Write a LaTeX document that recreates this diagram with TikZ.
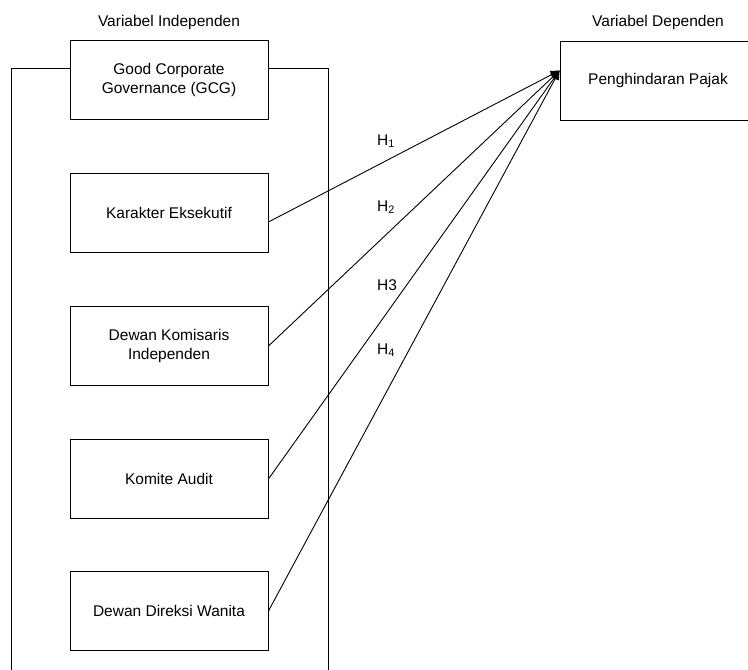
\documentclass[tikz,border=0pt]{standalone}
\usepackage{fontspec}
\setmainfont{Liberation Sans}
\usetikzlibrary{arrows.meta,positioning}
\tikzset{
  varblk/.style={draw,rectangle,minimum width=198pt,minimum height=79pt,align=center,line width=0.9pt,font=\fsz},
  hdr/.style={font=\fsz,align=center},
  hyp/.style={font=\fsz},
  arr/.style={-{Triangle[length=9pt,width=8pt]},line width=0.9pt},
  frm/.style={line width=0.9pt}
}
\newcommand{\fsz}{\fontsize{15.5}{19.5}\selectfont}

\begin{document}
\begin{tikzpicture}[x=1pt,y=-1pt]
  \useasboundingbox (0,0) rectangle (748,670);
  \clip (0,0) rectangle (748,670);
  % Headings
  \node[hdr] (hind) at (169,22.5) {Variabel Independen};
  \node[hdr] (hdep) at (658,22.5) {Variabel Dependen};

  % Independent variables
  \node[varblk] (gcg) at (169,80) {Good Corporate\\Governance (GCG)};
  \node[varblk] (karakter) at (169,213) {Karakter Eksekutif};
  \node[varblk] (komisaris) at (169,346) {Dewan Komisaris\\Independen};
  \node[varblk] (komite) at (169,479) {Komite Audit};
  \node[varblk] (wanita) at (169,611) {Dewan Direksi Wanita};

  % Dependent variable
  \node[varblk, minimum width=196pt] (pajak) at (658,80.5) {Penghindaran Pajak};

  % Frame round the GCG group
  \coordinate (fbl) at (11,670);
  \coordinate (fbr) at (328,670);
  \draw[frm] ([yshift=12pt]gcg.west) -| (fbl);
  \draw[frm] ([yshift=12pt]gcg.east) -| (fbr);

  % Hypotheses
  \coordinate (tip) at ([yshift=10pt]pajak.west);
  \draw[arr] ([yshift=-9pt]karakter.east) -- (tip);
  \draw[arr] (komisaris.east) -- (tip);
  \draw[arr] (komite.east) -- (tip);
  \draw[arr] (wanita.east) -- (tip);

  \node[hyp] (h1) at (386,141) {H\textsubscript{1}};
  \node[hyp] (h2) at (386,207) {H\textsubscript{2}};
  \node[hyp] (h3) at (387,285) {H3};
  \node[hyp] (h4) at (386,350) {H\textsubscript{4}};
\end{tikzpicture}
\end{document}
